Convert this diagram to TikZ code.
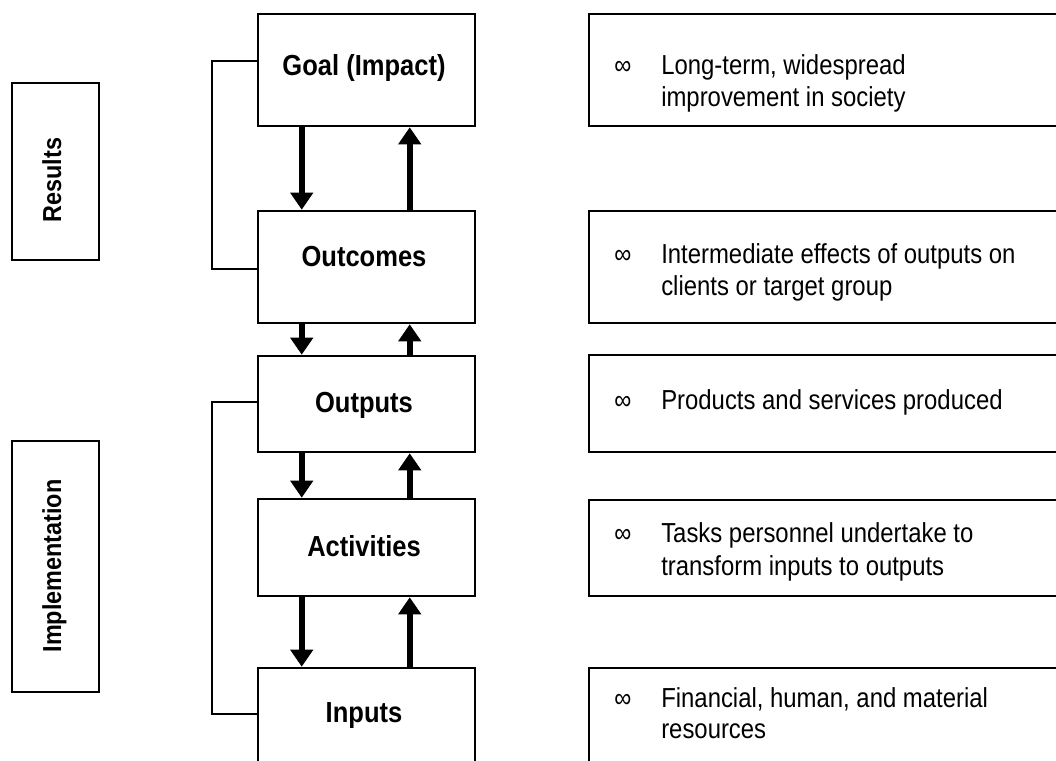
\documentclass[tikz,border=0pt]{standalone}
\usepackage{fontspec}
\usetikzlibrary{arrows.meta}
\setmainfont{Liberation Sans}
\newfontfamily\descfont[FakeStretch=0.87]{Liberation Sans}
\newfontfamily\midfont[FakeStretch=0.88]{Liberation Sans Bold}
\newfontfamily\sidefont[FakeStretch=0.90]{Liberation Sans Bold}

% a framed box given by its left, top, right and bottom edges (in px)
\newcommand\boxat[5]{%
  \node[framebox, minimum width={(#4-#2)*0.75pt}, minimum height={(#5-#3)*0.75pt}]
    (#1) at ({(#2+#4)/2},{(#3+#5)/2}) {};}

\begin{document}
\begin{tikzpicture}[x=0.75pt,y=-0.75pt,
  framebox/.style={draw=black, line width=1.9pt, rectangle, inner sep=0pt},
  flow/.style={line width=4.5pt, -{Triangle[width=16.5pt,length=12.75pt]}},
  bracket/.style={draw=black, line width=1.3pt},
  stage/.style={font=\midfont\fontsize{21.75pt}{26pt}\selectfont, inner sep=0pt, anchor=base},
  phase/.style={font=\sidefont\fontsize{19.5pt}{24pt}\selectfont, inner sep=0pt, anchor=base, rotate=90},
  desc/.style={font=\descfont\fontsize{20.6pt}{24pt}\selectfont, inner sep=0pt, anchor=base west},
  bullet/.style={font=\descfont\fontsize{20.6pt}{24pt}\selectfont, inner sep=0pt, anchor=base west}]
\path[use as bounding box] (0,0) rectangle (1056,760);
\clip (0,0) rectangle (1056,760);

% phase boxes on the left
\boxat{resBox}{12}{83}{99}{260}
\boxat{impBox}{12}{441}{99}{692}
\node[phase] (resT) at (61,180) {Results};
\node[phase] (impT) at (61,566) {Implementation};

% chain of stages
\boxat{goal}{258}{14}{475}{126}
\boxat{outc}{258}{211}{475}{323}
\boxat{outp}{258}{356}{475}{452}
\boxat{act}{258}{499}{475}{596}
\boxat{inp}{258}{668}{475}{800}
\node[stage] (goalT) at (364,75) {Goal (Impact)};
\node[stage] (outcT) at (364,266) {Outcomes};
\node[stage] (outpT) at (364,412) {Outputs};
\node[stage] (actT) at (364,556) {Activities};
\node[stage] (inpT) at (364,722) {Inputs};

% descriptions on the right
\boxat{dGoal}{589}{14}{1080}{126}
\boxat{dOutc}{589}{211}{1080}{323}
\boxat{dOutp}{589}{355}{1080}{452}
\boxat{dAct}{589}{500}{1080}{596}
\boxat{dInp}{589}{668}{1080}{800}

\node[bullet] (b1) at (614,74) {∞};
\node[desc] (d1a) at (661,74) {Long-term, widespread};
\node[desc] (d1b) at (661,106) {improvement in society};
\node[bullet] (b2) at (614,263) {∞};
\node[desc] (d2a) at (661,263) {Intermediate effects of outputs on};
\node[desc] (d2b) at (661,295) {clients or target group};
\node[bullet] (b3) at (614,409) {∞};
\node[desc] (d3a) at (661,409) {Products and services produced};
\node[bullet] (b4) at (614,542) {∞};
\node[desc] (d4a) at (661,542) {Tasks personnel undertake to};
\node[desc] (d4b) at (661,575) {transform inputs to outputs};
\node[bullet] (b5) at (614,707) {∞};
\node[desc] (d5a) at (661,707) {Financial, human, and material};
\node[desc] (d5b) at (661,738) {resources};

% downward and upward arrows between stages
\foreach \a/\b in {goal/outc, outc/outp, outp/act, act/inp}{
  \draw[flow] ([shift={(45,0)}]\a.south west) -- ([shift={(45,0)}]\b.north west);
  \draw[flow] ([shift={(153,0)}]\b.north west) -- ([shift={(153,0)}]\a.south west);
}

% brackets grouping the stages
\draw[bracket] ([shift={(0,48)}]goal.north west) -| ([shift={(-45,59)}]outc.north west)
  -- ([shift={(0,59)}]outc.north west);
\draw[bracket] ([shift={(0,47)}]outp.north west) -| ([shift={(-45,47)}]inp.north west)
  -- ([shift={(0,47)}]inp.north west);
\end{tikzpicture}
\end{document}
